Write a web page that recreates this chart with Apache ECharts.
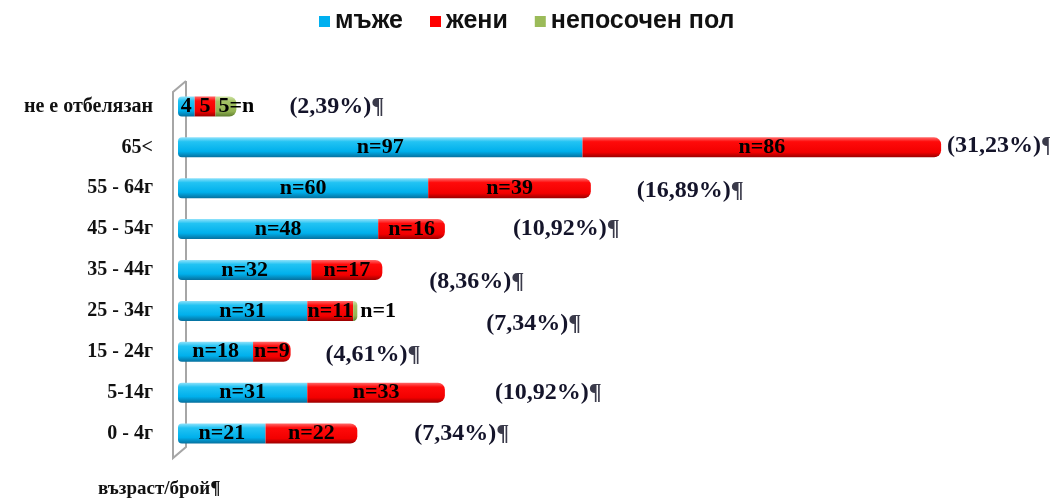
<!DOCTYPE html>
<html>
<head>
<meta charset="utf-8">
<script src="https://cdn.jsdelivr.net/npm/echarts/dist/echarts.min.js"></script>
<style>
  html, body { margin: 0; padding: 0; background: #ffffff; }
  #chart { width: 1050px; height: 504px; }
</style>
</head>
<body>
<div id="chart"></div>
<script>
// Age groups, bottom to top
const categories = ['0 - 4г', '5-14г', '15 - 24г', '25 - 34г', '35 - 44г', '45 - 54г', '55 - 64г', '65<', 'не е отбелязан'];
const men = [21, 31, 18, 31, 32, 48, 60, 97, 4];
const women = [22, 33, 9, 11, 17, 16, 39, 86, 5];
const unspecified = [0, 0, 0, 1, 0, 0, 0, 0, 5];
const seriesNames = ['мъже', 'жени', 'непосочен пол'];

// Hand-placed shift [dx, dy] of each share label from the end of its bar
const shareLabelShift = [[57, 0], [50, 0], [35, 3], [129, 13], [47, 12], [68, 0], [46, 3], [6, -2], [53, 0]];

const UNMARKED = categories.length - 1;
const totals = categories.map((_, i) => men[i] + women[i] + unspecified[i]);
const grandTotal = totals.reduce((a, b) => a + b, 0);
const shareText = totals.map(t => (t / grandTotal * 100).toFixed(2).replace('.', ','));

const serif = '"Liberation Serif", "DejaVu Serif", serif';
const sans = '"Liberation Sans", Arial, sans-serif';

const grad = (stops) => new echarts.graphic.LinearGradient(0, 0, 0, 1,
  stops.map(([offset, color]) => ({ offset, color })));

const fills = [
  grad([[0, '#8fe2fb'], [0.22, '#22c3f3'], [0.7, '#00b0ec'], [1, '#06709e']]),
  grad([[0, '#ff6a6a'], [0.22, '#ff0a0a'], [0.75, '#f20000'], [1, '#9a0000']]),
  grad([[0, '#cfe3a4'], [0.25, '#a3c266'], [0.75, '#93b352'], [1, '#5f7e30']])
];
const solid = ['#00b0f0', '#ff0000', '#9bbb59'];
const stacks = [men, women, unspecified];

// index of the outermost non-empty segment in each row (gets the rounded cap)
const lastSeg = categories.map((_, i) => {
  let last = 0;
  stacks.forEach((arr, s) => { if (arr[i] > 0) last = s; });
  return last;
});

function segmentLabel(s, i, v) {
  if (v === 0) return '';
  if (i === UNMARKED) return s === 2 ? v + '=n' : String(v);
  return 'n=' + v;
}

const barSeries = stacks.map((arr, s) => ({
  name: seriesNames[s],
  type: 'bar',
  stack: 'total',
  barWidth: 20,
  z: 3,
  data: arr.map((v, i) => {
    const radius = [s === 0 ? 4 : 0, lastSeg[i] === s ? 7 : 0, lastSeg[i] === s ? 7 : 0, s === 0 ? 4 : 0];
    const item = { value: v, itemStyle: { color: fills[s], borderRadius: radius } };
    if (s === 2 && v === 1) item.label = { position: 'right', distance: 3 };
    if (s === 2 && i === UNMARKED) item.label = { position: 'insideLeft', offset: [-2, 0] };
    return item;
  }),
  label: {
    show: true,
    position: 'inside',
    color: '#000',
    fontFamily: serif,
    fontWeight: 'bold',
    fontSize: 22,
    formatter: p => segmentLabel(s, p.dataIndex, p.value)
  },
  itemStyle: { color: fills[s] }
}));

const shareSeries = {
  name: 'share',
  type: 'scatter',
  symbolSize: 0,
  z: 4,
  silent: true,
  itemStyle: { opacity: 1 },
  data: totals.map((t, i) => ({
    value: [t, i],
    label: { offset: shareLabelShift[i] }
  })),
  label: {
    show: true,
    position: 'right',
    distance: 0,
    fontFamily: serif,
    fontWeight: 'bold',
    fontSize: 24,
    color: '#14142a',
    formatter: p => '(' + shareText[p.dataIndex] + '%){p|¶}',
    rich: {
      p: { fontFamily: serif, fontWeight: 'bold', fontSize: 24, color: '#3a3a4a' }
    }
  }
};

const chart = echarts.init(document.getElementById('chart'), null, { renderer: 'canvas' });

chart.setOption({
  backgroundColor: '#ffffff',
  animation: false,
  legend: {
    top: 4,
    left: 314,
    icon: 'rect',
    itemWidth: 11,
    itemHeight: 11,
    itemGap: 27,
    textStyle: { fontFamily: sans, fontWeight: 'bold', fontSize: 25, color: '#111' },
    data: seriesNames.map((n, s) => ({ name: n, itemStyle: { color: solid[s] } }))
  },
  grid: { left: 178, top: 86, height: 368, width: 834, containLabel: false },
  xAxis: {
    type: 'value',
    min: 0,
    max: 200,
    show: false
  },
  yAxis: {
    type: 'category',
    data: categories,
    axisLine: { show: false },
    axisTick: { show: false },
    splitLine: { show: false },
    axisLabel: {
      margin: 25,
      fontFamily: serif,
      fontWeight: 'bold',
      fontSize: 20,
      color: '#111'
    }
  },
  graphic: [
    {
      type: 'polyline',
      z: 0,
      shape: { points: [[186, 81], [173, 92], [173, 458], [186, 447], [186, 81]] },
      style: { fill: '#ffffff', stroke: '#a6a6a6', lineWidth: 2 }
    },
    {
      type: 'text',
      left: 98,
      top: 480,
      style: {
        text: 'възраст/брой{p|¶}',
        fontFamily: serif,
        fontWeight: 'bold',
        fontSize: 19,
        fill: '#111',
        rich: { p: { fontFamily: serif, fontWeight: 'bold', fontSize: 19, color: '#3a3a4a' } }
      }
    }
  ],
  series: [...barSeries, shareSeries]
});
</script>
</body>
</html>
